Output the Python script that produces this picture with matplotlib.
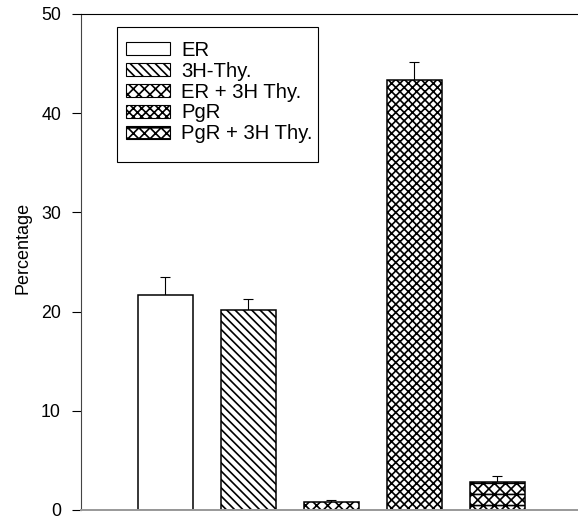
import matplotlib
matplotlib.use("Agg")
import matplotlib.pyplot as plt
from matplotlib.patches import Rectangle

# values
groups = ["ER", "3H-Thy.", "ER + 3H Thy.", "PgR", "PgR + 3H Thy."]
means = [21.7, 20.2, 0.8, 43.3, 2.8]
errors = [1.8, 1.1, 0.2, 1.9, 0.6]
hatches = ["", "\\" * 8, "x" * 6, "x" * 8, "x" * 6 + "-" * 3]
yticks = [0, 10, 20, 30, 40, 50]

plt.rcParams["font.family"] = ["Liberation Sans", "DejaVu Sans"]
plt.rcParams["hatch.linewidth"] = 0.6
plt.rcParams["hatch.color"] = "black"

W, H = 578, 518
fig = plt.figure(figsize=(W / 200, H / 200), dpi=200)
ax = fig.add_axes([81 / W, 1 - 510 / H, 1 - 81 / W, (510 - 14) / H])

x = list(range(len(groups)))
bars = ax.bar(x, means, width=0.663, color="white", edgecolor="black",
              linewidth=0.55, label=groups, zorder=2)
for b, h in zip(bars, hatches):
    b.set_hatch(h)
ax.errorbar(x, means, yerr=[[0] * len(means), errors], fmt="none",
            ecolor="black", elinewidth=0.4, capsize=1.8, capthick=0.4, zorder=1)

ax.set_xlim(-1.018, 4.97)
ax.set_ylim(0, 50)
ax.set_yticks(yticks)
ax.set_xticks([])
ax.tick_params(axis="y", direction="out", length=3.2, width=0.4, pad=4,
               labelsize=6.4, colors="black")
ax.set_ylabel("Percentage", fontsize=6.5)
ax.yaxis.set_label_coords(-0.100, 0.529)

ax.spines["right"].set_visible(False)
ax.spines["top"].set_linewidth(0.4)
ax.spines["left"].set_linewidth(0.4)
ax.spines["left"].set_color("#444444")
ax.spines["bottom"].set_linewidth(0.7)
ax.spines["bottom"].set_color("#999999")

# legend box drawn separately (uneven padding in the reference)
def to_axes(px, py):
    return (px - 81) / (W - 81), (510 - py) / (510 - 14)

x0, y0 = to_axes(117, 162)
x1, y1 = to_axes(318, 27)
ax.add_patch(Rectangle((x0, y0), x1 - x0, y1 - y0, transform=ax.transAxes,
                       facecolor="white", edgecolor="black", linewidth=0.4,
                       zorder=3))
lx, ly = to_axes(126, 41)
leg = ax.legend(loc="upper left", bbox_to_anchor=(lx, ly), borderaxespad=0,
                borderpad=0, fontsize=7.3, frameon=False, handlelength=2.17,
                handleheight=0.6, handletextpad=0.55, labelspacing=0.09)
leg.set_zorder(4)
for p in leg.get_patches():
    p.set_linewidth(0.4)

fig.savefig("out.png", dpi=200)
